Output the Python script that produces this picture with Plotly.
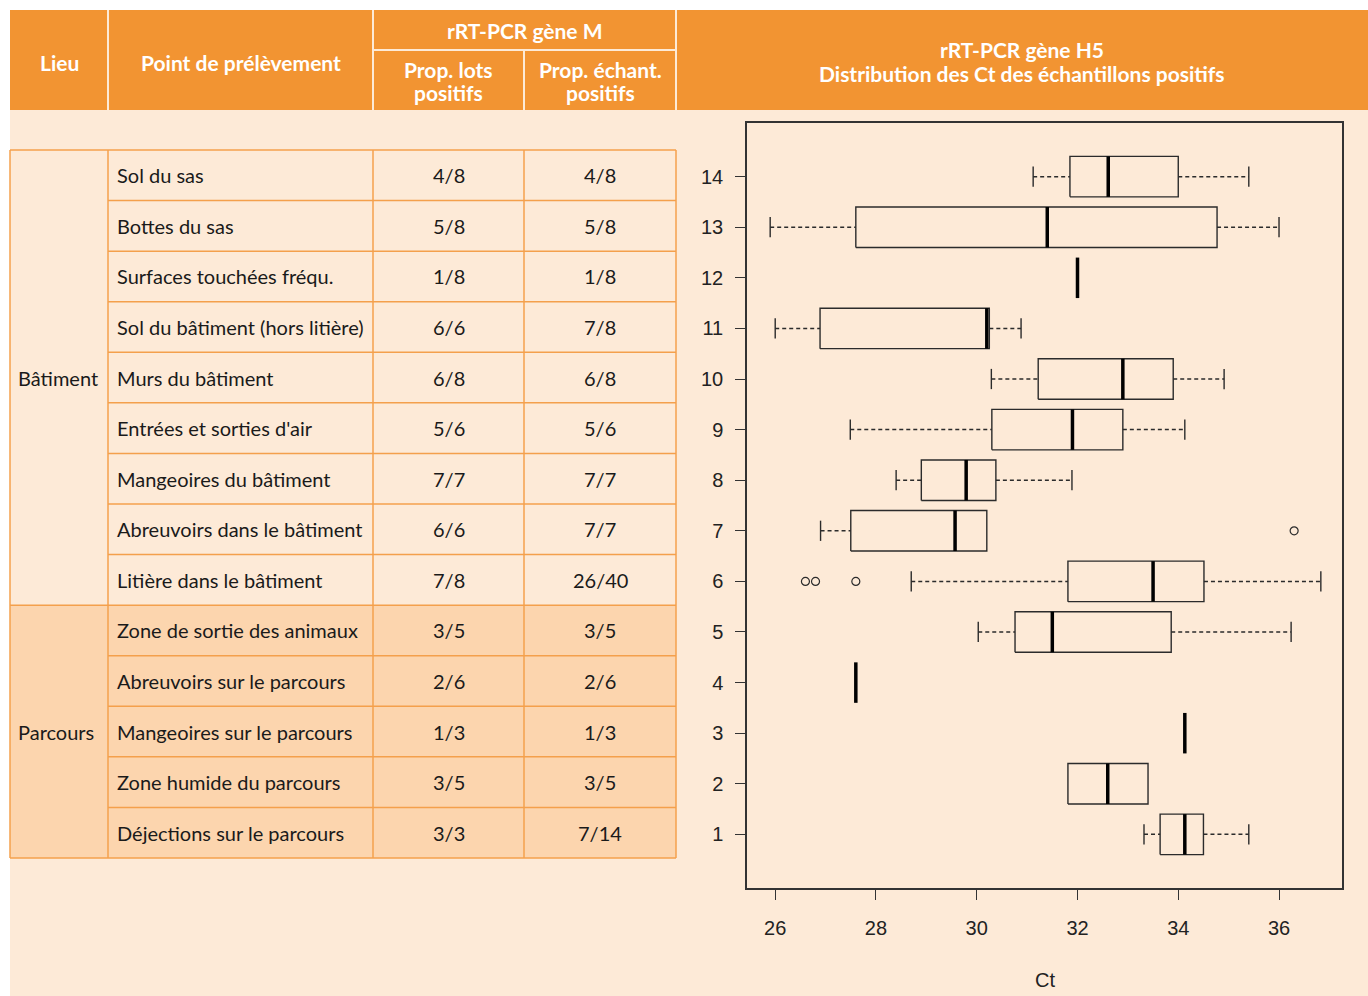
import plotly.graph_objects as go

# ---------------- data ----------------
# table rows, top to bottom
points = ["Sol du sas", "Bottes du sas", "Surfaces touchées fréqu.",
          "Sol du bâtiment (hors litière)", "Murs du bâtiment",
          "Entrées et sorties d'air", "Mangeoires du bâtiment",
          "Abreuvoirs dans le bâtiment", "Litière dans le bâtiment",
          "Zone de sortie des animaux", "Abreuvoirs sur le parcours",
          "Mangeoires sur le parcours", "Zone humide du parcours",
          "Déjections sur le parcours"]
prop_lots = ["4/8", "5/8", "1/8", "6/6", "6/8", "5/6", "7/7", "6/6", "7/8",
             "3/5", "2/6", "1/3", "3/5", "3/3"]
prop_ech = ["4/8", "5/8", "1/8", "7/8", "6/8", "5/6", "7/7", "7/7", "26/40",
            "3/5", "2/6", "1/3", "3/5", "7/14"]
lieux = ["Bâtiment", "Parcours"]
lieu_counts = [9, 5]

# boxplot stats, index 0 -> y=1 (bottom) ... index 13 -> y=14 (top)
ypos = list(range(1, 15))
wlo = [33.32, 31.81, 34.13, 27.6, 30.03, 28.7, 26.9, 28.4, 27.49, 30.29, 26.0, 32.0, 25.9, 31.12]
q1 = [33.64, 31.81, 34.13, 27.6, 30.76, 31.81, 27.5, 28.9, 30.3, 31.22, 26.89, 32.0, 27.6, 31.85]
med = [34.13, 32.6, 34.13, 27.6, 31.5, 33.5, 29.57, 29.79, 31.9, 32.9, 30.2, 32.0, 31.4, 32.61]
q3 = [34.5, 33.4, 34.13, 27.6, 33.86, 34.51, 30.2, 30.38, 32.9, 33.9, 30.25, 32.0, 34.77, 34.0]
whi = [35.4, 33.4, 34.13, 27.6, 36.24, 36.83, 30.2, 31.89, 34.13, 34.91, 30.88, 32.0, 36.0, 35.4]
out_y = [6, 6, 6, 7]
out_x = [26.6, 26.8, 27.6, 36.3]

x_ticks = [26, 28, 30, 32, 34, 36]

# ---------------- style ----------------
W, H = 1368, 996
ORANGE = "#F29432"
PEACH = "#FDEAD7"
PEACH2 = "#FCD5AE"
GRID = "#F4A04C"
BOXC = "#2b2b2b"
TFONT = "Lato, 'Open Sans', sans-serif"
PFONT = "'Liberation Sans', Arial, sans-serif"

def px(x):
    return x / W

def py(y):
    return 1 - y / H

HW = 0.4   # box half height
CW = 0.2   # cap half height

fig = go.Figure()

wx, wy = [], []
cx, cy = [], []
bx, by = [], []
mx, my = [], []
for i, y in enumerate(ypos):
    if wlo[i] < q1[i]:
        wx += [wlo[i], q1[i], None]; wy += [y, y, None]
        cx += [wlo[i], wlo[i], None]; cy += [y - CW, y + CW, None]
    if whi[i] > q3[i]:
        wx += [q3[i], whi[i], None]; wy += [y, y, None]
        cx += [whi[i], whi[i], None]; cy += [y - CW, y + CW, None]
    if q3[i] > q1[i]:
        bx += [q1[i], q3[i], q3[i], q1[i], q1[i], None]
        by += [y - HW, y - HW, y + HW, y + HW, y - HW, None]
    mx += [med[i], med[i], None]; my += [y - HW, y + HW, None]

fig.add_trace(go.Scatter(x=wx, y=wy, mode="lines", line=dict(color=BOXC, width=1.5, dash="4px,3px"),
                         hoverinfo="skip", showlegend=False))
fig.add_trace(go.Scatter(x=cx, y=cy, mode="lines", line=dict(color=BOXC, width=1.4),
                         hoverinfo="skip", showlegend=False))
fig.add_trace(go.Scatter(x=bx, y=by, mode="lines", line=dict(color=BOXC, width=1.4),
                         hoverinfo="skip", showlegend=False))
fig.add_trace(go.Scatter(x=mx, y=my, mode="lines", line=dict(color="#000000", width=3.5),
                         hoverinfo="skip", showlegend=False))
fig.add_trace(go.Scatter(x=out_x, y=out_y, mode="markers",
                         marker=dict(symbol="circle-open", size=8, color=BOXC, line=dict(width=1.2)),
                         hoverinfo="skip", showlegend=False))

# ---------------- table via shapes/annotations ----------------
shapes = []
annots = []
X0, XL, XP, XA, XB, XR = 10, 108, 373, 524, 676, 1368
T0, T1 = 150, 858
rh = (T1 - T0) / len(points)

shapes.append(dict(type="rect", xref="paper", yref="paper", x0=px(X0), x1=1, y0=0, y1=py(10),
                   fillcolor=PEACH, line=dict(width=0), layer="below"))
shapes.append(dict(type="rect", xref="paper", yref="paper", x0=px(X0), x1=1, y0=py(110), y1=py(10),
                   fillcolor=ORANGE, line=dict(width=0), layer="below"))
start = 0
for name, n in zip(lieux, lieu_counts):
    if name == "Parcours":
        shapes.append(dict(type="rect", xref="paper", yref="paper", x0=px(X0), x1=px(XB),
                           y0=py(T0 + (start + n) * rh), y1=py(T0 + start * rh),
                           fillcolor=PEACH2, line=dict(width=0), layer="below"))
    start += n

for xv, ya in [(XL, 10), (XP, 10), (XA, 50), (XB, 10)]:
    shapes.append(dict(type="line", xref="paper", yref="paper", x0=px(xv), x1=px(xv),
                       y0=py(110), y1=py(ya), line=dict(color=PEACH, width=2), layer="below"))
shapes.append(dict(type="line", xref="paper", yref="paper", x0=px(XP), x1=px(XB),
                   y0=py(50), y1=py(50), line=dict(color=PEACH, width=2), layer="below"))

for xv in [X0, XL, XP, XA, XB]:
    shapes.append(dict(type="line", xref="paper", yref="paper", x0=px(xv), x1=px(xv),
                       y0=py(T1), y1=py(T0), line=dict(color=GRID, width=1.5), layer="below"))
group_bounds = [0]
for n in lieu_counts:
    group_bounds.append(group_bounds[-1] + n)
for k in range(len(points) + 1):
    x_start = X0 if k in group_bounds else XL
    yv = T0 + k * rh
    shapes.append(dict(type="line", xref="paper", yref="paper", x0=px(x_start), x1=px(XB),
                       y0=py(yv), y1=py(yv), line=dict(color=GRID, width=1.5), layer="below"))

bfont = dict(family=TFONT, size=20, color="#1a1a1a")
for k, (p, a, b) in enumerate(zip(points, prop_lots, prop_ech)):
    yc = T0 + (k + 0.5) * rh
    annots.append(dict(x=px(115), y=py(yc), xref="paper", yref="paper", text=p, showarrow=False,
                       xanchor="left", yanchor="middle", font=bfont))
    annots.append(dict(x=px((XP + XA) / 2), y=py(yc), xref="paper", yref="paper", text=a, showarrow=False,
                       xanchor="center", yanchor="middle", font=bfont))
    annots.append(dict(x=px((XA + XB) / 2), y=py(yc), xref="paper", yref="paper", text=b, showarrow=False,
                       xanchor="center", yanchor="middle", font=bfont))
start = 0
for name, n in zip(lieux, lieu_counts):
    yc = T0 + (start + n / 2) * rh
    annots.append(dict(x=px(16), y=py(yc), xref="paper", yref="paper", text=name, showarrow=False,
                       xanchor="left", yanchor="middle", font=bfont))
    start += n

hfont = dict(family=TFONT, size=21, color="white", weight="bold")
headers = [
    ((X0 + XL) / 2, [62], ["Lieu"]),
    ((XL + XP) / 2, [62], ["Point de prélèvement"]),
    ((XP + XB) / 2, [31], ["rRT-PCR gène M"]),
    ((XP + XA) / 2, [70, 92], ["Prop. lots", "positifs"]),
    ((XA + XB) / 2, [70, 92], ["Prop. échant.", "positifs"]),
    ((XB + XR) / 2, [50, 73], ["rRT-PCR gène H5", "Distribution des Ct des échantillons positifs"]),
]
for xc, ys, lines in headers:
    for yc, t in zip(ys, lines):
        annots.append(dict(x=px(xc), y=py(yc), xref="paper", yref="paper", text=t, showarrow=False,
                           xanchor="center", yanchor="middle", font=hfont))

annots.append(dict(x=px(1045), y=py(980), xref="paper", yref="paper", text="Ct", showarrow=False,
                   xanchor="center", yanchor="middle", font=dict(family=PFONT, size=20, color="#222")))

fig.update_layout(
    width=W, height=H,
    margin=dict(l=0, r=0, t=0, b=0),
    paper_bgcolor="white",
    plot_bgcolor="rgba(0,0,0,0)",
    shapes=shapes,
    annotations=annots,
    showlegend=False,
    xaxis=dict(domain=[px(747), px(1342)], range=[25.44, 37.25], tickvals=x_ticks,
               ticks="outside", ticklen=10, tickwidth=1.3, tickcolor="#333",
               showline=True, linecolor="#333", linewidth=1.5, mirror=True,
               showgrid=False, zeroline=False,
               tickfont=dict(family=PFONT, size=20, color="#222"), ticklabelstandoff=11),
    yaxis=dict(domain=[py(888), py(123)], range=[-0.06, 15.06], tickvals=ypos,
               ticks="outside", ticklen=10, tickwidth=1.3, tickcolor="#333",
               showline=True, linecolor="#333", linewidth=1.5, mirror=True,
               showgrid=False, zeroline=False,
               tickfont=dict(family=PFONT, size=20, color="#222"), ticklabelstandoff=8),
)

fig.write_html("out.html", config={"displayModeBar": False},
               post_script="document.body.style.margin='0';")
